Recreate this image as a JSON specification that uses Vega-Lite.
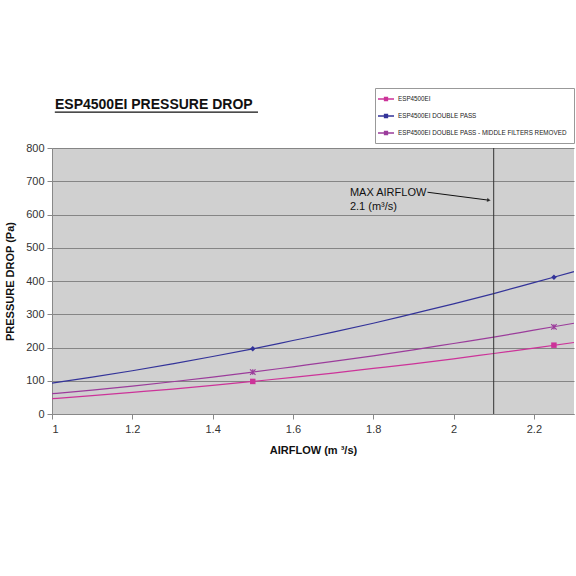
{
  "$schema": "https://vega.github.io/schema/vega-lite/v6.json",
  "autosize": "none",
  "width": 522,
  "height": 266,
  "padding": {"left": 52, "top": 148, "right": 2, "bottom": 162},
  "background": "white",
  "config": {
    "font": "Liberation Sans",
    "view": {"fill": "#d0d0d0", "stroke": null},
    "axis": {"labelFont": "Liberation Sans", "titleFont": "Liberation Sans", "labelFontSize": 11, "labelColor": "#333333", "titleFontSize": 11, "titleFontWeight": "bold", "titleColor": "#111111", "domainColor": "#888888", "tickColor": "#888888", "tickSize": 5, "gridColor": "#858585", "gridOpacity": 1}
  },
  "title": {"text": "ESP4500EI PRESSURE DROP", "anchor": "start", "frame": "group", "dx": 3, "offset": -24, "fontSize": 14, "fontWeight": "bold", "font": "Liberation Sans", "color": "#111111"},
  "datasets": {
    "curves": [
      {"series": "ESP4500EI", "airflow": 1.0, "pressure": 46},
      {"series": "ESP4500EI", "airflow": 1.1, "pressure": 55},
      {"series": "ESP4500EI", "airflow": 1.2, "pressure": 65},
      {"series": "ESP4500EI", "airflow": 1.3, "pressure": 75},
      {"series": "ESP4500EI", "airflow": 1.4, "pressure": 86},
      {"series": "ESP4500EI", "airflow": 1.5, "pressure": 98},
      {"series": "ESP4500EI", "airflow": 1.6, "pressure": 110},
      {"series": "ESP4500EI", "airflow": 1.7, "pressure": 123},
      {"series": "ESP4500EI", "airflow": 1.8, "pressure": 137},
      {"series": "ESP4500EI", "airflow": 1.9, "pressure": 151},
      {"series": "ESP4500EI", "airflow": 2.0, "pressure": 166},
      {"series": "ESP4500EI", "airflow": 2.1, "pressure": 182},
      {"series": "ESP4500EI", "airflow": 2.2, "pressure": 198},
      {"series": "ESP4500EI", "airflow": 2.3, "pressure": 215},
      {"series": "ESP4500EI DOUBLE PASS", "airflow": 1.0, "pressure": 93},
      {"series": "ESP4500EI DOUBLE PASS", "airflow": 1.1, "pressure": 111},
      {"series": "ESP4500EI DOUBLE PASS", "airflow": 1.2, "pressure": 130},
      {"series": "ESP4500EI DOUBLE PASS", "airflow": 1.3, "pressure": 151},
      {"series": "ESP4500EI DOUBLE PASS", "airflow": 1.4, "pressure": 173},
      {"series": "ESP4500EI DOUBLE PASS", "airflow": 1.5, "pressure": 196},
      {"series": "ESP4500EI DOUBLE PASS", "airflow": 1.6, "pressure": 221},
      {"series": "ESP4500EI DOUBLE PASS", "airflow": 1.7, "pressure": 246},
      {"series": "ESP4500EI DOUBLE PASS", "airflow": 1.8, "pressure": 273},
      {"series": "ESP4500EI DOUBLE PASS", "airflow": 1.9, "pressure": 302},
      {"series": "ESP4500EI DOUBLE PASS", "airflow": 2.0, "pressure": 331},
      {"series": "ESP4500EI DOUBLE PASS", "airflow": 2.1, "pressure": 362},
      {"series": "ESP4500EI DOUBLE PASS", "airflow": 2.2, "pressure": 395},
      {"series": "ESP4500EI DOUBLE PASS", "airflow": 2.3, "pressure": 428},
      {"series": "ESP4500EI DOUBLE PASS  - MIDDLE FILTERS REMOVED", "airflow": 1.0, "pressure": 61},
      {"series": "ESP4500EI DOUBLE PASS  - MIDDLE FILTERS REMOVED", "airflow": 1.1, "pressure": 72},
      {"series": "ESP4500EI DOUBLE PASS  - MIDDLE FILTERS REMOVED", "airflow": 1.2, "pressure": 84},
      {"series": "ESP4500EI DOUBLE PASS  - MIDDLE FILTERS REMOVED", "airflow": 1.3, "pressure": 97},
      {"series": "ESP4500EI DOUBLE PASS  - MIDDLE FILTERS REMOVED", "airflow": 1.4, "pressure": 111},
      {"series": "ESP4500EI DOUBLE PASS  - MIDDLE FILTERS REMOVED", "airflow": 1.5, "pressure": 126},
      {"series": "ESP4500EI DOUBLE PASS  - MIDDLE FILTERS REMOVED", "airflow": 1.6, "pressure": 142},
      {"series": "ESP4500EI DOUBLE PASS  - MIDDLE FILTERS REMOVED", "airflow": 1.7, "pressure": 158},
      {"series": "ESP4500EI DOUBLE PASS  - MIDDLE FILTERS REMOVED", "airflow": 1.8, "pressure": 175},
      {"series": "ESP4500EI DOUBLE PASS  - MIDDLE FILTERS REMOVED", "airflow": 1.9, "pressure": 193},
      {"series": "ESP4500EI DOUBLE PASS  - MIDDLE FILTERS REMOVED", "airflow": 2.0, "pressure": 212},
      {"series": "ESP4500EI DOUBLE PASS  - MIDDLE FILTERS REMOVED", "airflow": 2.1, "pressure": 231},
      {"series": "ESP4500EI DOUBLE PASS  - MIDDLE FILTERS REMOVED", "airflow": 2.2, "pressure": 252},
      {"series": "ESP4500EI DOUBLE PASS  - MIDDLE FILTERS REMOVED", "airflow": 2.3, "pressure": 273}
    ],
    "measured": [
      {"name": "ESP4500EI", "airflow": 1.5, "pressure": 98},
      {"name": "ESP4500EI", "airflow": 2.25, "pressure": 207},
      {"name": "ESP4500EI DOUBLE PASS", "airflow": 1.5, "pressure": 196},
      {"name": "ESP4500EI DOUBLE PASS", "airflow": 2.25, "pressure": 411},
      {"name": "ESP4500EI DOUBLE PASS  - MIDDLE FILTERS REMOVED", "airflow": 1.5, "pressure": 126},
      {"name": "ESP4500EI DOUBLE PASS  - MIDDLE FILTERS REMOVED", "airflow": 2.25, "pressure": 262}
    ],
    "maxline": [{"airflow": 2.1, "pressure": 0, "pressure2": 800}],
    "notes": [
      {"airflow": 1.742, "pressure": 665, "text": "MAX AIRFLOW"},
      {"airflow": 1.742, "pressure": 622, "text": "2.1 (m³/s)"}
    ],
    "arrow": [{"airflow": 1.935, "pressure": 667, "airflow2": 2.088, "pressure2": 643}],
    "arrowhead": [{"airflow": 2.088, "pressure": 643}],
    "underline": [{"airflow": 1.007, "airflow2": 1.513, "pressure": 908}]
  },
  "encoding": {
    "x": {"field": "airflow", "type": "quantitative", "scale": {"domain": [1, 2.3], "nice": false, "zero": false},
          "axis": {"title": "AIRFLOW (m ³/s)", "values": [1, 1.2, 1.4, 1.6, 1.8, 2, 2.2], "format": "~g", "grid": false, "labelPadding": 4, "titlePadding": 10}},
    "y": {"field": "pressure", "type": "quantitative", "scale": {"domain": [0, 800], "nice": false},
          "axis": {"title": "PRESSURE DROP (Pa)", "values": [0, 100, 200, 300, 400, 500, 600, 700, 800], "labelOverlap": false, "grid": true, "labelPadding": 3, "titlePadding": 10}}
  },
  "layer": [
    {
      "data": {"name": "curves"},
      "mark": {"type": "line", "strokeWidth": 1.2, "interpolate": "monotone"},
      "encoding": {
        "color": {"field": "series", "type": "nominal",
                  "scale": {"domain": ["ESP4500EI", "ESP4500EI DOUBLE PASS", "ESP4500EI DOUBLE PASS  - MIDDLE FILTERS REMOVED"], "range": ["#cc3399", "#333399", "#9b3c9b"]},
                  "legend": {"title": null, "orient": "none", "legendX": 323, "legendY": -60, "fillColor": "white", "strokeColor": "#999999", "padding": 5, "labelFontSize": 6.3, "labelFont": "Liberation Sans", "labelColor": "#222222", "symbolType": "M-1.6,0H1.6M-0.3,-0.3H0.3V0.3H-0.3Z", "symbolSize": 100, "symbolStrokeWidth": 1.3, "rowPadding": 6, "labelOffset": 6, "labelLimit": 400}}
      }
    },
    {
      "data": {"name": "measured"},
      "transform": [{"filter": "datum.name === 'ESP4500EI'"}],
      "mark": {"type": "point", "shape": "square", "filled": true, "size": 30, "color": "#cc3399", "opacity": 1},
      "encoding": {}
    },
    {
      "data": {"name": "measured"},
      "transform": [{"filter": "datum.name === 'ESP4500EI DOUBLE PASS'"}],
      "mark": {"type": "point", "shape": "diamond", "filled": true, "size": 30, "color": "#333399", "opacity": 1},
      "encoding": {}
    },
    {
      "data": {"name": "measured"},
      "transform": [{"filter": "datum.name === 'ESP4500EI DOUBLE PASS  - MIDDLE FILTERS REMOVED'"}],
      "mark": {"type": "point", "shape": "M-1,-1L1,1M-1,1L1,-1M0,-1L0,1", "filled": false, "size": 30, "strokeWidth": 1.2, "color": "#9b3c9b", "opacity": 1},
      "encoding": {}
    },
    {
      "data": {"name": "maxline"},
      "mark": {"type": "rule", "color": "#333333", "strokeWidth": 1},
      "encoding": {
        "y2": {"field": "pressure2"}
      }
    },
    {
      "data": {"name": "notes"},
      "mark": {"type": "text", "align": "left", "baseline": "middle", "fontSize": 11, "font": "Liberation Sans", "color": "#111111"},
      "encoding": {
        "text": {"field": "text"}
      }
    },
    {
      "data": {"name": "arrow"},
      "mark": {"type": "rule", "color": "#111111", "strokeWidth": 1},
      "encoding": {
        "x2": {"field": "airflow2"},
        "y2": {"field": "pressure2"}
      }
    },
    {
      "data": {"name": "arrowhead"},
      "mark": {"type": "point", "shape": "triangle-right", "filled": true, "color": "#111111", "size": 18, "angle": 8},
      "encoding": {}
    },
    {
      "data": {"name": "underline"},
      "mark": {"type": "rule", "color": "#111111", "strokeWidth": 1.3},
      "encoding": {
        "x2": {"field": "airflow2"}
      }
    }
  ]
}
